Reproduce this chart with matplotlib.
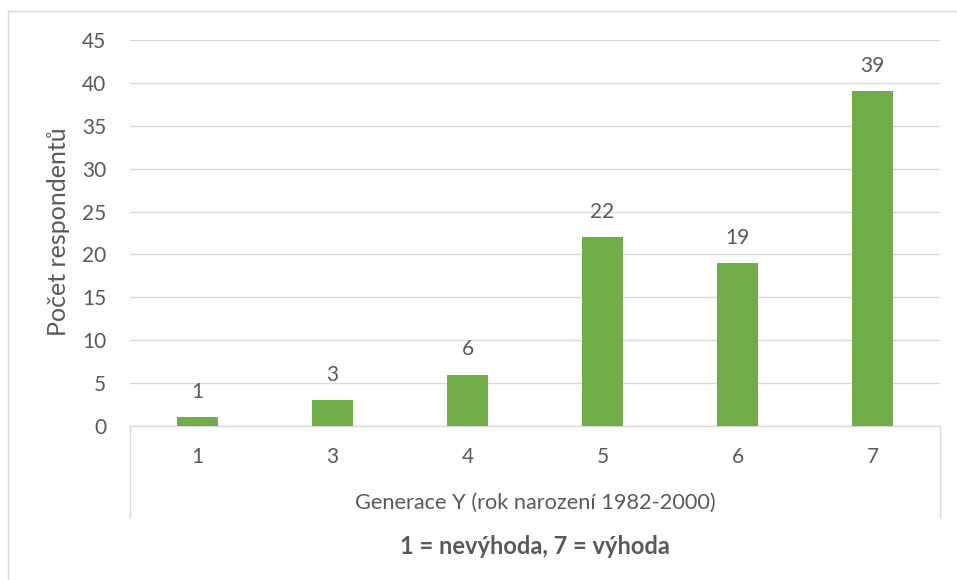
import matplotlib
matplotlib.use('Agg')
import matplotlib.pyplot as plt
from matplotlib.lines import Line2D

categories = ["1", "3", "4", "5", "6", "7"]
counts = [1, 3, 6, 22, 19, 39]
y_ticks = [0, 5, 10, 15, 20, 25, 30, 35, 40, 45]

group_label = "Generace Y (rok narození 1982-2000)"
title_text = "1 = nevýhoda, 7 = výhoda"
y_label = "Počet respondentů"

plt.rcParams['font.family'] = ['Lato', 'DejaVu Sans']
text_color = '#595959'
grid_color = '#D9D9D9'
bar_color = '#70AD47'

W, H = 957, 580
fig = plt.figure(figsize=(W / 100, H / 100), dpi=100)

# plot area in pixel coordinates
left, right, bottom, top = 130, 940, 426, 40
ax = fig.add_axes([left / W, 1 - bottom / H, (right - left) / W, (bottom - top) / H])

x = range(len(categories))
bars = ax.bar(x, counts, width=0.31, color=bar_color, zorder=3)
ax.set_xlim(-0.5, len(categories) - 0.5)
ax.set_ylim(0, 45)
ax.set_yticks(y_ticks)
ax.set_xticks(list(x))
ax.set_xticklabels(categories)
ax.yaxis.grid(True, color=grid_color, linewidth=1.0, zorder=0)
ax.tick_params(axis='both', length=0, labelsize=15, colors=text_color)
ax.tick_params(axis='x', pad=15)
ax.tick_params(axis='y', pad=17)
for side in ['top', 'right', 'left']:
    ax.spines[side].set_visible(False)
ax.spines['bottom'].set_color(grid_color)
ax.spines['bottom'].set_linewidth(1.0)

for rect, v in zip(bars, counts):
    ax.annotate(str(v), (rect.get_x() + rect.get_width() / 2, v),
                xytext=(0, 11), textcoords='offset points',
                ha='center', va='bottom', fontsize=15, color=text_color)

def px_line(x0, y0, x1, y1):
    fig.add_artist(Line2D([x0 / W, x1 / W], [1 - y0 / H, 1 - y1 / H],
                          transform=fig.transFigure, color=grid_color, linewidth=1.0))

# group separators of the category axis
px_line(left, bottom, left, 517)
px_line(right, bottom, right, 517)

# chart frame
px_line(8, 11, W, 11)
px_line(8, 11, 8, H)

fig.text(58 / W, 1 - 232 / H, y_label, rotation=90, ha='center', va='center',
         fontsize=18, color=text_color)
fig.text((left + right) / 2 / W, 1 - 503 / H, group_label, ha='center', va='center',
         fontsize=15.7, color=text_color)
fig.text((left + right) / 2 / W, 1 - 547 / H, title_text, ha='center', va='center',
         fontsize=17, fontweight='bold', color=text_color)

fig.savefig('out.png', dpi=100)
